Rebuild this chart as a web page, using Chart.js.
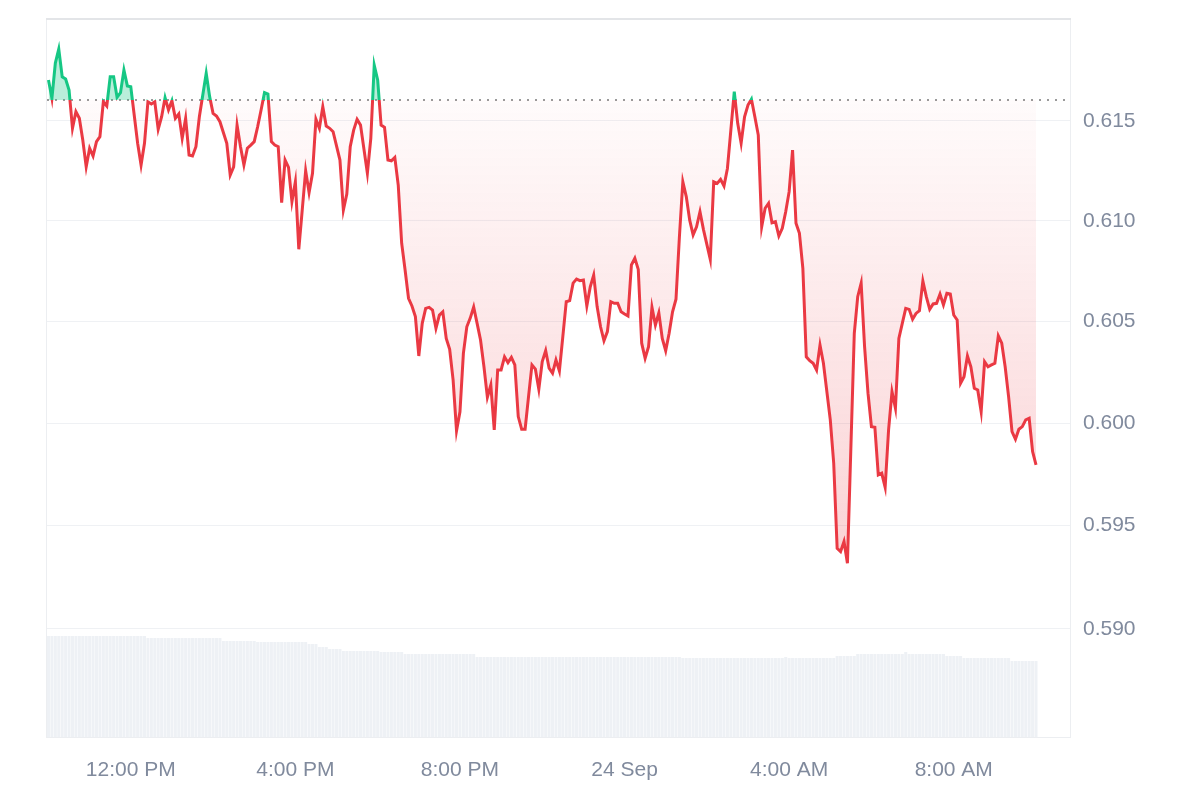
<!DOCTYPE html>
<html lang="en">
<head>
    <meta charset="UTF-8">
    <title>Price chart</title>
    <script src="https://cdn.jsdelivr.net/npm/chart.js"></script>
    <style>
        body { margin: 0; background: #fff; }
    </style>
</head>
<body>
    <canvas id="priceChart" width="1200" height="800"></canvas>

    <script>
        // price samples, Sep 23 10:00 -> Sep 24 10:00 (times roll over at midnight)
        const times = [
          '10:00','10:05','10:10','10:15','10:20','10:25','10:30','10:35','10:40','10:45','10:50','10:55',
          '11:00','11:05','11:10','11:15','11:20','11:25','11:30','11:35','11:40','11:45','11:50','11:55',
          '12:00','12:10','12:15','12:20','12:25','12:30','12:35','12:40','12:45','12:50','12:55',
          '13:00','13:05','13:10','13:15','13:20','13:25','13:30','13:35','13:40','13:50','13:55',
          '14:00','14:05','14:10','14:20','14:25','14:30','14:35','14:40','14:45','14:50','14:55',
          '15:00','15:05','15:10','15:15','15:20','15:25','15:30','15:35','15:40','15:45','15:50','15:55',
          '16:00','16:05','16:10','16:15','16:20','16:25','16:30','16:35','16:40','16:45','16:50','16:55',
          '17:05','17:10','17:15','17:20','17:25','17:30','17:35','17:45','17:50','17:55',
          '18:00','18:05','18:10','18:15','18:20','18:25','18:30','18:35','18:40','18:45','18:50','18:55',
          '19:00','19:05','19:10','19:15','19:20','19:25','19:30','19:35','19:40','19:45','19:50','19:55',
          '20:00','20:05','20:10','20:15','20:20','20:25','20:30','20:35','20:40','20:45','20:50','20:55',
          '21:00','21:05','21:10','21:15','21:20','21:25','21:30','21:35','21:40','21:45','21:50','21:55',
          '22:00','22:05','22:10','22:15','22:20','22:25','22:30','22:35','22:40','22:45','22:50','22:55',
          '23:00','23:05','23:10','23:15','23:20','23:25','23:30','23:35','23:40','23:45','23:50','23:55',
          '00:00','00:05','00:10','00:15','00:20','00:25','00:30','00:35','00:40','00:45','00:50','00:55',
          '01:00','01:05','01:10','01:15','01:20','01:25','01:30','01:35','01:40','01:45','01:50','01:55',
          '02:05','02:10','02:15','02:20','02:25','02:30','02:35','02:40','02:45','02:50','02:55',
          '03:00','03:05','03:10','03:15','03:20','03:25','03:30','03:35','03:40','03:45','03:50','03:55',
          '04:00','04:05','04:10','04:15','04:20','04:25','04:30','04:35','04:40','04:45','04:50',
          '05:00','05:05','05:10','05:15','05:20','05:25','05:35','05:40','05:45','05:50','05:55',
          '06:00','06:05','06:10','06:15','06:20','06:25','06:30','06:35','06:40','06:45','06:50','06:55',
          '07:00','07:05','07:10','07:15','07:20','07:25','07:30','07:35','07:40','07:45','07:50','07:55',
          '08:00','08:05','08:10','08:15','08:20','08:25','08:30','08:35','08:40','08:45','08:50','08:55',
          '09:00','09:05','09:10','09:15','09:20','09:25','09:30','09:35','09:40','09:45','09:50','09:55',
          '10:00'
        ];
        const prices = [
          0.61705,0.61613,0.6179,0.61861,0.61721,0.6171,0.61654,0.61462,0.61545,0.61512,0.61403,0.61269,
          0.61362,0.61323,0.61395,0.6142,0.61595,0.61574,0.61721,0.61721,0.61618,0.61641,0.61755,0.61675,
          0.61671,0.61387,0.61278,0.61387,0.61595,0.61584,0.61595,0.61457,0.6152,0.61616,0.61554,
          0.616,0.61512,0.61534,0.61412,0.61512,0.61328,0.61323,0.6137,0.6152,0.61739,0.61621,
          0.61537,0.61524,0.61495,0.61387,0.61228,0.61269,0.61478,0.6137,0.61278,0.61362,0.61378,
          0.61395,0.6147,0.61554,0.61641,0.61634,0.61395,0.61378,0.6137,0.6109,0.61303,0.61266,0.61095,
          0.61194,0.60858,0.61053,0.6125,0.6114,0.61237,0.61507,0.61462,0.6157,0.61473,0.61462,0.61445,
          0.61303,0.61053,0.61133,0.6137,0.61453,0.61507,0.61478,0.61237,0.61412,0.6178,
          0.61705,0.61478,0.61467,0.61303,0.61299,0.61316,0.61178,0.60888,0.60755,0.60615,0.60577,0.60524,
          0.6033,0.60491,0.60565,0.6057,0.60557,0.60466,0.60532,0.60548,0.60417,0.60363,0.60212,0.59963,
          0.60056,0.60343,0.60474,0.60517,0.60572,0.60491,0.60409,0.60277,0.60127,0.60187,0.59967,0.60261,
          0.60261,0.60326,0.60297,0.60323,0.60286,0.60032,0.5997,0.5997,0.6013,0.60286,0.60265,0.60166,
          0.60302,0.60356,0.6027,0.60245,0.6031,0.60256,0.60425,0.60598,0.60603,0.6069,0.6071,0.60702,
          0.60705,0.60577,0.60672,0.6073,0.60574,0.60474,0.60405,0.6045,0.60598,0.6059,0.6059,0.60548,
          0.60537,0.60527,0.6078,0.60813,0.60758,0.60393,0.60319,0.60376,0.6057,0.60483,0.60543,0.60417,
          0.60356,0.60442,0.60548,0.6061,0.6092,0.61194,0.6112,0.61003,0.60929,0.6097,0.61045,0.60957,
          0.60808,0.61194,0.61186,0.61206,0.61173,0.61261,0.61453,0.61646,0.61487,0.61387,0.6152,
          0.61579,0.61608,0.6152,0.61428,0.6097,0.61062,0.61087,0.6099,0.60995,0.60924,0.60962,0.61045,
          0.61145,0.61353,0.60987,0.60937,0.60763,0.60326,0.60307,0.60294,0.60261,0.60384,0.60294,
          0.60016,0.59804,0.5939,0.59374,0.59423,0.59318,0.60442,0.60623,0.6069,0.60376,0.60147,
          0.59983,0.5998,0.59747,0.59755,0.59687,0.59967,0.60154,0.60073,0.60417,0.60491,0.60565,0.6056,
          0.60511,0.6054,0.60553,0.607,0.60623,0.6056,0.60587,0.6059,0.60636,0.60582,0.6064,0.60636,
          0.60532,0.60508,0.60196,0.60228,0.6033,0.60277,0.60171,0.60163,0.60056,0.60302,0.60277,0.60286,
          0.60294,0.60429,0.60393,0.60277,0.6013,0.59958,0.59921,0.5997,0.59983,0.60016,0.60024,0.59861,
          0.59796
        ];
        const baselinePrice = 0.61604;

        // 5-minute volume bars starting 10:00, one row per hour (relative heights)
        const volume = [
          101,101,101,101,101,101,101,101,101,101,101,101,
          101,101,101,101,101,101,101,101,101,101,101,101,
          101,101,101,101,101,99,99,99,99,99,99,99,
          99,99,99,99,99,99,99,99,99,99,99,99,
          99,99,99,96,96,96,96,96,96,96,96,96,
          96,95,95,95,95,95,95,95,95,95,95,95,
          95,95,95,95,93,93,93,90,90,90,88,88,
          88,88,86,86,86,86,86,86,86,86,86,86,
          86,85,85,85,85,85,85,85,83,83,83,83,
          83,83,83,83,83,83,83,83,83,83,83,83,
          83,83,83,83,83,80,80,80,80,80,80,80,
          80,80,80,80,80,80,80,80,80,80,80,80,
          80,80,80,80,80,80,80,80,80,80,80,80,
          80,80,80,80,80,80,80,80,80,80,80,80,
          80,80,80,80,80,80,80,80,80,80,80,80,
          80,80,80,80,80,79,79,79,79,79,79,79,
          79,79,79,79,79,79,79,79,79,79,79,79,
          79,79,79,79,79,79,79,79,79,79,79,80,
          79,79,79,79,79,79,79,79,79,79,79,79,
          79,79,81,81,81,81,81,81,83,83,83,83,
          83,83,83,83,83,83,83,83,83,83,85,83,
          83,83,83,83,83,83,83,83,83,83,81,81,
          81,81,81,79,79,79,79,79,79,79,79,79,
          79,79,79,79,79,76,76,76,76,76,76,76,
          76
        ];

        const xTicks = [12, 16, 20, 24, 28, 32];
        const xTickLabels = ['12:00 PM', '4:00 PM', '8:00 PM', '24 Sep', '4:00 AM', '8:00 AM'];
        const yTicks = [0.590, 0.595, 0.600, 0.605, 0.610, 0.615];

        const green = '#16c784';
        const red = '#ea3943';
        const tickColor = '#808a9d';
        const tickFont = { family: '"Liberation Sans", Arial, sans-serif', size: 21 };

        // hours since Sep 23 00:00
        let dayOffset = 0, prevHour = -1;
        const pricePoints = times.map((t, i) => {
          const [hh, mm] = t.split(':').map(Number);
          let h = hh + mm / 60 + dayOffset;
          if (h < prevHour) { dayOffset += 24; h += 24; }
          prevHour = h;
          return { x: h, y: prices[i] };
        });
        const volumePoints = volume.map((v, i) => ({ x: 10 + i / 12, y: v }));

        const xMin = 9.964, xMax = 34.85;

        function splitColor(context) {
          const chart = context.chart;
          const area = chart.chartArea;
          if (!area) return red;
          const yb = chart.scales.y.getPixelForValue(baselinePrice);
          const f = Math.min(1, Math.max(0, (yb - area.top) / (area.bottom - area.top)));
          const g = chart.ctx.createLinearGradient(0, area.top, 0, area.bottom);
          g.addColorStop(0, green);
          g.addColorStop(f, green);
          g.addColorStop(f, red);
          g.addColorStop(1, red);
          return g;
        }

        const frame = {
          id: 'frame',
          beforeDatasetsDraw(chart) {
            const { ctx, chartArea: a } = chart;
            ctx.save();
            ctx.strokeStyle = '#eceef1';
            ctx.lineWidth = 1;
            ctx.strokeRect(a.left - 0.5, a.top + 0.5, a.right - a.left, a.bottom - a.top);
            ctx.strokeStyle = '#e3e5e8';
            ctx.lineWidth = 2;
            ctx.beginPath();
            ctx.moveTo(a.left - 1, a.top);
            ctx.lineTo(a.right, a.top);
            ctx.stroke();
            ctx.restore();
          }
        };

        const chart = new Chart(document.getElementById('priceChart'), {
          data: {
            datasets: [
              {
                type: 'line',
                data: pricePoints,
                yAxisID: 'y',
                borderColor: splitColor,
                borderWidth: 3,
                pointRadius: 0,
                tension: 0,
                fill: { target: { value: baselinePrice }, above: 'rgba(22,199,132,0.3)', below: 'rgba(234,57,67,0.1)' },
                order: 0
              },
              {
                type: 'line',
                data: [{ x: xMin, y: baselinePrice }, { x: xMax, y: baselinePrice }],
                yAxisID: 'y',
                borderColor: '#9a9a9a',
                borderWidth: 2,
                borderDash: [2, 6],
                pointRadius: 0,
                fill: false,
                order: 1
              },
              {
                type: 'bar',
                data: volumePoints,
                yAxisID: 'yVol',
                backgroundColor: '#eef1f5',
                barPercentage: 0.88,
                categoryPercentage: 1,
                order: 2
              }
            ]
          },
          options: {
            responsive: false,
            devicePixelRatio: 1,
            animation: false,
            layout: { padding: { left: 47, top: 19, right: 0, bottom: 0 } },
            plugins: { legend: { display: false }, tooltip: { enabled: false } },
            scales: {
              x: {
                type: 'linear',
                offset: false,
                min: xMin,
                max: xMax,
                afterBuildTicks: scale => { scale.ticks = xTicks.map(v => ({ value: v })); },
                afterFit: scale => { scale.height = 63; scale.paddingLeft = 0; scale.paddingRight = 0; },
                grid: { display: false, offset: false },
                border: { display: false },
                ticks: {
                  autoSkip: false,
                  maxRotation: 0,
                  padding: 13,
                  color: tickColor,
                  font: tickFont,
                  callback: v => xTickLabels[xTicks.indexOf(v)]
                }
              },
              y: {
                type: 'logarithmic',
                position: 'right',
                min: 0.58482,
                max: 0.62013,
                afterBuildTicks: scale => { scale.ticks = yTicks.map(v => ({ value: v })); },
                afterFit: scale => { scale.width = 129; scale.paddingTop = 0; scale.paddingBottom = 0; },
                grid: { color: '#eff1f4', drawTicks: false },
                border: { display: false },
                ticks: {
                  padding: 12,
                  color: tickColor,
                  font: tickFont,
                  callback: v => v.toFixed(3)
                }
              },
              yVol: {
                display: false,
                min: 0,
                max: 718
              }
            }
          },
          plugins: [frame]
        });

        // red area fades in from the baseline down to the bottom of the plot
        const area = chart.chartArea;
        const yb = chart.scales.y.getPixelForValue(baselinePrice);
        const redFade = chart.ctx.createLinearGradient(0, yb, 0, area.bottom);
        redFade.addColorStop(0, 'rgba(234,57,67,0.02)');
        redFade.addColorStop(1, 'rgba(234,57,67,0.3)');
        chart.data.datasets[0].fill = { target: { value: baselinePrice }, above: 'rgba(22,199,132,0.3)', below: redFade };
        chart.update('none');
    </script>
</body>
</html>
